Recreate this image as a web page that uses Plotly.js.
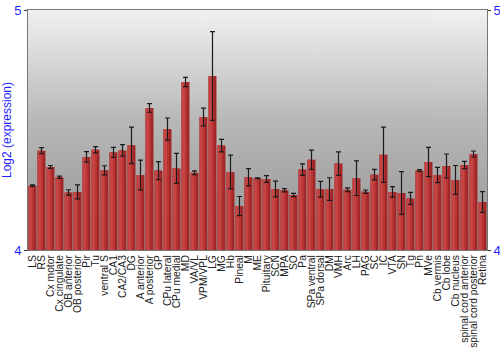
<!DOCTYPE html>
<html>
<head>
<meta charset="utf-8">
<script src="https://cdn.plot.ly/plotly-3.0.1.min.js"></script>
<style>html,body{margin:0;padding:0;background:#fff;}#chart{width:500px;height:350px;}</style>
</head>
<body>
<div id="chart"></div>
<script>
var categories = ["LS","RS","Cx motor","Cx cingulate","OB anterior","OB posterior","Pir","Tu","ventral S","CA1","CA2/CA3","DG","A anterior","A posterior","GP","CPu lateral","CPu medial","MD","VA/VL","VPM/VPL","LG","MG","Hb","Pineal","M","ME","Pituitary","SCN","MPA","SO","Pa","SPa ventral","SPa dorsal","DM","VMH","Arc","LH","PAG","SC","IC","VTA","SN","Tg","Pn","MVe","Cb vermis","Cb lobe","Cb nucleus","spinal cord anterior","spinal cord posterior","Retina"];
var values = [4.268,4.414,4.346,4.303,4.240,4.242,4.388,4.418,4.332,4.407,4.415,4.436,4.3125,4.592,4.331,4.504,4.340,4.700,4.322,4.554,4.725,4.435,4.325,4.183,4.303,4.299,4.296,4.254,4.249,4.229,4.335,4.376,4.253,4.254,4.360,4.251,4.299,4.243,4.314,4.397,4.242,4.2375,4.215,4.331,4.367,4.3125,4.350,4.292,4.354,4.400,4.200];
var errors = [0.003,0.0125,0.006,0.005,0.011,0.029,0.022,0.013,0.019,0.021,0.024,0.076,0.062,0.018,0.0375,0.046,0.0625,0.019,0.008,0.037,0.185,0.026,0.07,0.04,0.036,0.002,0.014,0.033,0.007,0.007,0.024,0.04,0.033,0.047,0.049,0.008,0.072,0.007,0.022,0.115,0.022,0.089,0.025,0.004,0.061,0.032,0.05,0.06,0.015,0.0125,0.043];
var yTicks = [4, 5];

// gradient background image
var cv = document.createElement('canvas');
cv.width = 4; cv.height = 240;
var ctx = cv.getContext('2d');
var g = ctx.createLinearGradient(0,0,0,240);
g.addColorStop(0,'#f1f1f1');
g.addColorStop(0.45,'#b9b9b9');
g.addColorStop(0.75,'#a4a4a4');
g.addColorStop(1,'#9a9a9a');
ctx.fillStyle = g; ctx.fillRect(0,0,4,240);
var bgURL = cv.toDataURL();

function barTrace(color, width, offset, withErr) {
  var t = {type:'bar', x:categories, y:values, width:width,
    marker:{color:color, line:{width:0}}, showlegend:false, hoverinfo:'x+y'};
  if (offset !== null) t.offset = offset;
  if (withErr) t.error_y = {type:'data', array:errors, visible:true, color:'#1a1a1a', thickness:1.2, width:2.5};
  return t;
}
var traces = [
  barTrace('#a12626', 0.88, null, false),
  barTrace('#b83434', 0.62, -0.44, false),
  barTrace('#c64444', 0.32, -0.38, false),
  barTrace('rgba(0,0,0,0)', 0.88, null, true),
  {type:'scatter', x:[categories[0]], y:[4], yaxis:'y2', mode:'markers', marker:{opacity:0}, showlegend:false, hoverinfo:'skip'}
];
var layout = {
  width:500, height:350,
  margin:{l:28, r:13, t:10, b:100},
  paper_bgcolor:'#ffffff', plot_bgcolor:'#aaaaaa',
  barmode:'overlay',
  font:{family:'"Liberation Sans", Arial, sans-serif', color:'#222'},
  xaxis:{type:'category', range:[-0.5, categories.length-0.5], tickangle:-90,
    tickmode:'array', tickvals:categories, ticktext:categories,
    tickfont:{size:10.3, color:'#222'}, showline:true, mirror:true, linecolor:'#777', linewidth:1,
    ticks:'', showgrid:false, automargin:false},
  yaxis:{range:[4,5], tickvals:yTicks, ticktext:yTicks.map(String), ticks:'outside', ticklen:3, tickcolor:'#333',
    tickfont:{size:13, color:'#1f1fff'}, showline:true, linecolor:'#777', showgrid:false, zeroline:false,
    title:{text:'Log2 (expression)', font:{size:12, color:'#1f1fff'}, standoff:4}, automargin:false},
  yaxis2:{range:[4,5], overlaying:'y', side:'right', tickvals:yTicks, ticktext:yTicks.map(String), ticks:'outside', ticklen:3, tickcolor:'#333',
    tickfont:{size:13, color:'#1f1fff'}, showline:true, linecolor:'#777', showgrid:false, zeroline:false, automargin:false},
  images:[{source:bgURL, xref:'paper', yref:'paper', x:0, y:1, sizex:1, sizey:1, sizing:'stretch', layer:'below', xanchor:'left', yanchor:'top'}]
};
Plotly.newPlot('chart', traces, layout, {displayModeBar:false, staticPlot:true});
</script>
</body>
</html>
